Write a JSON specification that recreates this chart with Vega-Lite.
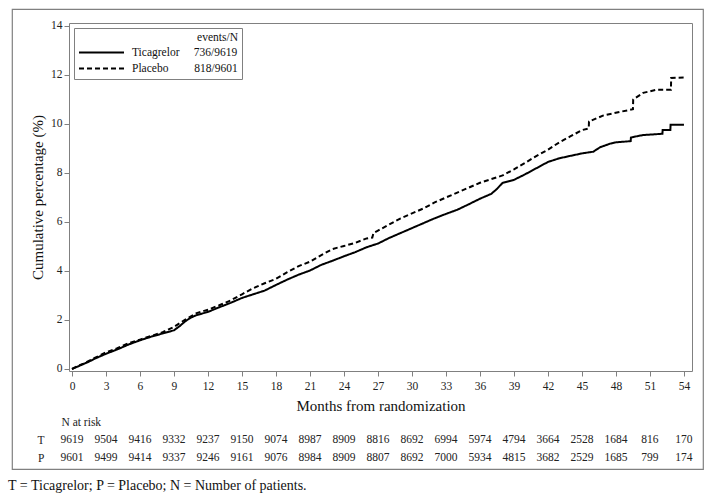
{
  "$schema": "https://vega.github.io/schema/vega-lite/v6.json",
  "autosize": {"type": "none"},
  "padding": {"left": 12, "top": 9, "right": 12, "bottom": 29},
  "width": 691,
  "height": 460,
  "config": {
    "font": "Liberation Serif",
    "view": {"stroke": "#808080", "strokeWidth": 1.2},
    "axis": {"grid": false, "labelFont": "Liberation Serif", "titleFont": "Liberation Serif", "labelColor": "#222", "titleColor": "#111", "titleFontWeight": "normal", "domainColor": "#808080", "tickColor": "#808080"}
  },
  "title": {"text": "T = Ticagrelor; P = Placebo; N = Number of patients.", "orient": "bottom", "anchor": "start", "frame": "group", "offset": 10, "dx": -4, "fontSize": 14, "fontWeight": "normal", "color": "#111", "font": "Liberation Serif"},
  "datasets": {
    "tica": [
      {"month": 0, "pct": 0, "arm": "Ticagrelor"}, {"month": 0.5, "pct": 0.1, "arm": "Ticagrelor"}, {"month": 1, "pct": 0.2, "arm": "Ticagrelor"}, {"month": 1.5, "pct": 0.3, "arm": "Ticagrelor"}, {"month": 2, "pct": 0.42, "arm": "Ticagrelor"}, {"month": 3, "pct": 0.62, "arm": "Ticagrelor"}, {"month": 4, "pct": 0.8, "arm": "Ticagrelor"}, {"month": 5, "pct": 1.0, "arm": "Ticagrelor"}, {"month": 6, "pct": 1.17, "arm": "Ticagrelor"}, {"month": 7, "pct": 1.32, "arm": "Ticagrelor"}, {"month": 8, "pct": 1.45, "arm": "Ticagrelor"}, {"month": 9, "pct": 1.58, "arm": "Ticagrelor"}, {"month": 9.5, "pct": 1.75, "arm": "Ticagrelor"}, {"month": 10, "pct": 1.95, "arm": "Ticagrelor"}, {"month": 10.5, "pct": 2.1, "arm": "Ticagrelor"}, {"month": 11, "pct": 2.2, "arm": "Ticagrelor"}, {"month": 12, "pct": 2.33, "arm": "Ticagrelor"}, {"month": 13, "pct": 2.52, "arm": "Ticagrelor"}, {"month": 14, "pct": 2.7, "arm": "Ticagrelor"}, {"month": 15, "pct": 2.9, "arm": "Ticagrelor"}, {"month": 16, "pct": 3.05, "arm": "Ticagrelor"}, {"month": 17, "pct": 3.2, "arm": "Ticagrelor"}, {"month": 18, "pct": 3.43, "arm": "Ticagrelor"}, {"month": 19, "pct": 3.65, "arm": "Ticagrelor"}, {"month": 20, "pct": 3.85, "arm": "Ticagrelor"}, {"month": 21, "pct": 4.02, "arm": "Ticagrelor"}, {"month": 22, "pct": 4.25, "arm": "Ticagrelor"}, {"month": 23, "pct": 4.42, "arm": "Ticagrelor"}, {"month": 24, "pct": 4.6, "arm": "Ticagrelor"}, {"month": 25, "pct": 4.77, "arm": "Ticagrelor"}, {"month": 26, "pct": 4.97, "arm": "Ticagrelor"}, {"month": 27, "pct": 5.12, "arm": "Ticagrelor"}, {"month": 28, "pct": 5.35, "arm": "Ticagrelor"}, {"month": 29, "pct": 5.55, "arm": "Ticagrelor"}, {"month": 30, "pct": 5.75, "arm": "Ticagrelor"}, {"month": 31, "pct": 5.95, "arm": "Ticagrelor"}, {"month": 32, "pct": 6.15, "arm": "Ticagrelor"}, {"month": 33, "pct": 6.33, "arm": "Ticagrelor"}, {"month": 34, "pct": 6.5, "arm": "Ticagrelor"}, {"month": 35, "pct": 6.72, "arm": "Ticagrelor"}, {"month": 36, "pct": 6.95, "arm": "Ticagrelor"}, {"month": 37, "pct": 7.15, "arm": "Ticagrelor"}, {"month": 37.5, "pct": 7.35, "arm": "Ticagrelor"}, {"month": 38, "pct": 7.6, "arm": "Ticagrelor"}, {"month": 39, "pct": 7.72, "arm": "Ticagrelor"}, {"month": 40, "pct": 7.95, "arm": "Ticagrelor"}, {"month": 41, "pct": 8.2, "arm": "Ticagrelor"}, {"month": 42, "pct": 8.45, "arm": "Ticagrelor"}, {"month": 43, "pct": 8.6, "arm": "Ticagrelor"}, {"month": 44, "pct": 8.7, "arm": "Ticagrelor"}, {"month": 45, "pct": 8.8, "arm": "Ticagrelor"}, {"month": 46, "pct": 8.87, "arm": "Ticagrelor"}, {"month": 46.6, "pct": 9.05, "arm": "Ticagrelor"}, {"month": 47.5, "pct": 9.2, "arm": "Ticagrelor"}, {"month": 48, "pct": 9.25, "arm": "Ticagrelor"}, {"month": 49.3, "pct": 9.3, "arm": "Ticagrelor"}, {"month": 49.32, "pct": 9.45, "arm": "Ticagrelor"}, {"month": 50.4, "pct": 9.55, "arm": "Ticagrelor"}, {"month": 52.1, "pct": 9.6, "arm": "Ticagrelor"}, {"month": 52.12, "pct": 9.75, "arm": "Ticagrelor"}, {"month": 52.8, "pct": 9.75, "arm": "Ticagrelor"}, {"month": 52.82, "pct": 9.97, "arm": "Ticagrelor"}, {"month": 54, "pct": 9.97, "arm": "Ticagrelor"}
    ],
    "placebo": [
      {"month": 0, "pct": 0, "arm": "Placebo"}, {"month": 0.5, "pct": 0.12, "arm": "Placebo"}, {"month": 1, "pct": 0.22, "arm": "Placebo"}, {"month": 2, "pct": 0.45, "arm": "Placebo"}, {"month": 3, "pct": 0.68, "arm": "Placebo"}, {"month": 4, "pct": 0.85, "arm": "Placebo"}, {"month": 5, "pct": 1.05, "arm": "Placebo"}, {"month": 6, "pct": 1.2, "arm": "Placebo"}, {"month": 7, "pct": 1.35, "arm": "Placebo"}, {"month": 8, "pct": 1.5, "arm": "Placebo"}, {"month": 9, "pct": 1.72, "arm": "Placebo"}, {"month": 10, "pct": 2.02, "arm": "Placebo"}, {"month": 11, "pct": 2.28, "arm": "Placebo"}, {"month": 12, "pct": 2.42, "arm": "Placebo"}, {"month": 13, "pct": 2.6, "arm": "Placebo"}, {"month": 14, "pct": 2.8, "arm": "Placebo"}, {"month": 15, "pct": 3.05, "arm": "Placebo"}, {"month": 16, "pct": 3.3, "arm": "Placebo"}, {"month": 17, "pct": 3.5, "arm": "Placebo"}, {"month": 18, "pct": 3.68, "arm": "Placebo"}, {"month": 19, "pct": 3.95, "arm": "Placebo"}, {"month": 20, "pct": 4.2, "arm": "Placebo"}, {"month": 21, "pct": 4.38, "arm": "Placebo"}, {"month": 22, "pct": 4.65, "arm": "Placebo"}, {"month": 23, "pct": 4.9, "arm": "Placebo"}, {"month": 24, "pct": 5.02, "arm": "Placebo"}, {"month": 25, "pct": 5.15, "arm": "Placebo"}, {"month": 26, "pct": 5.33, "arm": "Placebo"}, {"month": 26.5, "pct": 5.36, "arm": "Placebo"}, {"month": 26.6, "pct": 5.55, "arm": "Placebo"}, {"month": 27, "pct": 5.65, "arm": "Placebo"}, {"month": 28, "pct": 5.9, "arm": "Placebo"}, {"month": 29, "pct": 6.15, "arm": "Placebo"}, {"month": 30, "pct": 6.35, "arm": "Placebo"}, {"month": 31, "pct": 6.55, "arm": "Placebo"}, {"month": 32, "pct": 6.8, "arm": "Placebo"}, {"month": 33, "pct": 7.0, "arm": "Placebo"}, {"month": 34, "pct": 7.2, "arm": "Placebo"}, {"month": 35, "pct": 7.4, "arm": "Placebo"}, {"month": 36, "pct": 7.6, "arm": "Placebo"}, {"month": 37, "pct": 7.75, "arm": "Placebo"}, {"month": 38, "pct": 7.9, "arm": "Placebo"}, {"month": 39, "pct": 8.15, "arm": "Placebo"}, {"month": 40, "pct": 8.42, "arm": "Placebo"}, {"month": 41, "pct": 8.7, "arm": "Placebo"}, {"month": 42, "pct": 8.95, "arm": "Placebo"}, {"month": 43, "pct": 9.25, "arm": "Placebo"}, {"month": 44, "pct": 9.5, "arm": "Placebo"}, {"month": 45, "pct": 9.75, "arm": "Placebo"}, {"month": 45.6, "pct": 9.82, "arm": "Placebo"}, {"month": 45.62, "pct": 10.1, "arm": "Placebo"}, {"month": 46.9, "pct": 10.35, "arm": "Placebo"}, {"month": 48.4, "pct": 10.5, "arm": "Placebo"}, {"month": 49.5, "pct": 10.6, "arm": "Placebo"}, {"month": 49.52, "pct": 11.0, "arm": "Placebo"}, {"month": 50.4, "pct": 11.27, "arm": "Placebo"}, {"month": 51.6, "pct": 11.4, "arm": "Placebo"}, {"month": 52.85, "pct": 11.4, "arm": "Placebo"}, {"month": 52.87, "pct": 11.88, "arm": "Placebo"}, {"month": 54, "pct": 11.9, "arm": "Placebo"}
    ],
    "risk": [
      {"month": 0, "row": "T", "n": 9619}, {"month": 3, "row": "T", "n": 9504}, {"month": 6, "row": "T", "n": 9416}, {"month": 9, "row": "T", "n": 9332}, {"month": 12, "row": "T", "n": 9237}, {"month": 15, "row": "T", "n": 9150}, {"month": 18, "row": "T", "n": 9074}, {"month": 21, "row": "T", "n": 8987}, {"month": 24, "row": "T", "n": 8909}, {"month": 27, "row": "T", "n": 8816}, {"month": 30, "row": "T", "n": 8692}, {"month": 33, "row": "T", "n": 6994}, {"month": 36, "row": "T", "n": 5974}, {"month": 39, "row": "T", "n": 4794}, {"month": 42, "row": "T", "n": 3664}, {"month": 45, "row": "T", "n": 2528}, {"month": 48, "row": "T", "n": 1684}, {"month": 51, "row": "T", "n": 816}, {"month": 54, "row": "T", "n": 170},
      {"month": 0, "row": "P", "n": 9601}, {"month": 3, "row": "P", "n": 9499}, {"month": 6, "row": "P", "n": 9414}, {"month": 9, "row": "P", "n": 9337}, {"month": 12, "row": "P", "n": 9246}, {"month": 15, "row": "P", "n": 9161}, {"month": 18, "row": "P", "n": 9076}, {"month": 21, "row": "P", "n": 8984}, {"month": 24, "row": "P", "n": 8909}, {"month": 27, "row": "P", "n": 8807}, {"month": 30, "row": "P", "n": 8692}, {"month": 33, "row": "P", "n": 7000}, {"month": 36, "row": "P", "n": 5934}, {"month": 39, "row": "P", "n": 4815}, {"month": 42, "row": "P", "n": 3682}, {"month": 45, "row": "P", "n": 2529}, {"month": 48, "row": "P", "n": 1685}, {"month": 51, "row": "P", "n": 799}, {"month": 54, "row": "P", "n": 174}
    ]
  },
  "resolve": {"scale": {"x": "independent", "y": "independent"}},
  "layer": [
    {
      "data": {"name": "tica"},
      "mark": {"type": "line", "color": "black", "strokeWidth": 2, "strokeCap": "butt"},
      "encoding": {
        "x": {"field": "month", "type": "quantitative", "scale": {"domain": [-0.265, 54.71], "range": [57, 680], "nice": false, "zero": false},
          "axis": {"orient": "bottom", "offset": -98, "values": [0,3,6,9,12,15,18,21,24,27,30,33,36,39,42,45,48,51,54], "tickSize": 5, "labelPadding": 4, "labelFontSize": 11.5, "title": "Months from randomization", "titleFontSize": 15, "titlePadding": 7}},
        "y": {"field": "pct", "type": "quantitative", "scale": {"domain": [-0.082, 14.122], "range": [362, 14], "nice": false, "zero": false},
          "axis": {"orient": "left", "offset": -57, "values": [0,2,4,6,8,10,12,14], "tickSize": 5, "labelPadding": 2, "labelFontSize": 11.5, "title": "Cumulative percentage (%)", "titleFontSize": 15, "titlePadding": 5}},
        "strokeDash": {"field": "arm", "type": "nominal",
          "scale": {"domain": ["Ticagrelor", "Placebo"], "range": [[1, 0], [5, 3]]},
          "legend": {"orient": "none", "legendX": 62, "legendY": 19, "title": "events/N", "titleAnchor": "end", "titleFontSize": 11.5, "titleFontWeight": "normal", "titleFont": "Liberation Serif", "titleColor": "#111", "titlePadding": 3,
            "labelFont": "Liberation Serif", "labelFontSize": 11.5, "labelColor": "#111", "labelOffset": 7, "labelLimit": 300,
            "labelExpr": "datum.label == 'Ticagrelor' ? 'Ticagrelor\u00a0\u00a0\u00a0\u00a0\u00a0736/9619' : 'Placebo\u00a0\u00a0\u00a0\u00a0\u00a0\u00a0\u00a0\u00a0\u00a0818/9601'",
            "symbolType": "stroke", "symbolSize": 2025, "symbolStrokeWidth": 2, "symbolStrokeColor": "black", "clipHeight": 12,
            "rowPadding": 4, "padding": 4, "strokeColor": "#808080", "fillColor": "white"}}
      }
    },
    {
      "data": {"name": "placebo"},
      "mark": {"type": "line", "color": "black", "strokeWidth": 2, "strokeCap": "butt"},
      "encoding": {
        "x": {"field": "month", "type": "quantitative", "scale": {"domain": [-0.265, 54.71], "range": [57, 680], "nice": false, "zero": false},
          "axis": {"orient": "top", "offset": -14, "ticks": false, "labels": false, "title": null}},
        "y": {"field": "pct", "type": "quantitative", "scale": {"domain": [-0.082, 14.122], "range": [362, 14], "nice": false, "zero": false},
          "axis": {"orient": "right", "offset": -11, "ticks": false, "labels": false, "title": null}},
        "strokeDash": {"field": "arm", "type": "nominal"}
      }
    },
    {
      "data": {"name": "risk"},
      "mark": {"type": "text", "fontSize": 11.5, "color": "#222", "align": "center", "baseline": "middle", "font": "Liberation Serif"},
      "encoding": {
        "x": {"field": "month", "type": "quantitative", "scale": {"domain": [-0.265, 54.71], "range": [57, 680], "nice": false, "zero": false}, "axis": null},
        "y": {"field": "row", "type": "ordinal", "scale": {"type": "point", "domain": ["T", "P"], "range": [431, 449], "padding": 0},
          "axis": {"orient": "left", "offset": -32, "ticks": false, "domain": false, "labelPadding": 0, "labelFontSize": 11.5, "labelColor": "#222",
            "title": "N at risk", "titleAngle": 0, "titleAlign": "left", "titleBaseline": "middle", "titleX": 17, "titleY": 413, "titleFontSize": 11.5, "titleColor": "#222"}},
        "text": {"field": "n", "type": "quantitative"}
      }
    }
  ]
}
